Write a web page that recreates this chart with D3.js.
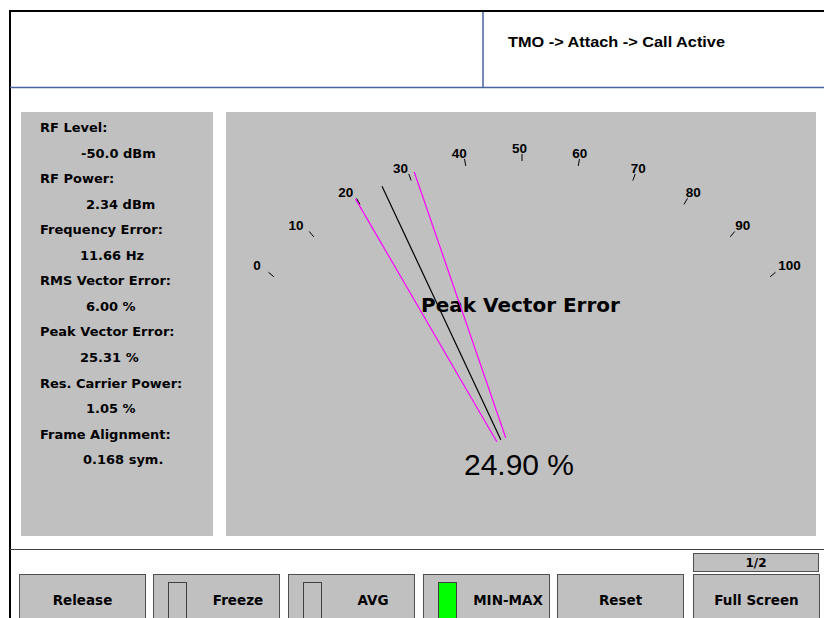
<!DOCTYPE html>
<html>
<head>
<meta charset="utf-8">
<script src="https://cdn.jsdelivr.net/npm/d3@7"></script>
<style>
  html, body { margin: 0; padding: 0; background: #fff; }
  svg { display: block; }
</style>
</head>
<body>
<svg id="screen" width="824" height="618"></svg>
<script>
// readings in the left panel
const readingLabels = ['RF Level:', 'RF Power:', 'Frequency Error:', 'RMS Vector Error:', 'Peak Vector Error:', 'Res. Carrier Power:', 'Frame Alignment:'];
const readingValues = ['-50.0 dBm', '2.34 dBm', '11.66 Hz', '6.00 %', '25.31 %', '1.05 %', '0.168 sym.'];

// gauge
const gaugeTitle = 'Peak Vector Error';
const gaugeTicks = [0, 10, 20, 30, 40, 50, 60, 70, 80, 90, 100];
const gaugeValue = 24.90;
const gaugeMin = 19.8;
const gaugeMax = 31.0;
const gaugeUnit = '%';

// header + softkeys
const statusText = 'TMO -> Attach -> Call Active';
const softkeys = ['Release', 'Freeze', 'AVG', 'MIN-MAX', 'Reset', 'Full Screen'];
const softkeyLed = [null, false, false, true, null, null];
const pageText = '1/2';

const svg = d3.select('#screen');
const bold = 'DejaVu Sans, sans-serif';
const grey = '#c0c0c0';

// frame
svg.append('line').attr('x1', 10).attr('x2', 824).attr('y1', 11).attr('y2', 11)
  .attr('stroke', '#000').attr('stroke-width', 2);
svg.append('line').attr('x1', 10).attr('x2', 10).attr('y1', 10).attr('y2', 618)
  .attr('stroke', '#000').attr('stroke-width', 2);
svg.append('line').attr('x1', 10).attr('x2', 824).attr('y1', 87.5).attr('y2', 87.5)
  .attr('stroke', '#4a64a0').attr('stroke-width', 1.5);
svg.append('line').attr('x1', 483).attr('x2', 483).attr('y1', 12).attr('y2', 87)
  .attr('stroke', '#4a64a0').attr('stroke-width', 1.5);
svg.append('line').attr('x1', 10).attr('x2', 824).attr('y1', 549.5).attr('y2', 549.5)
  .attr('stroke', '#404040').attr('stroke-width', 1);

svg.append('text').attr('x', 508).attr('y', 47)
  .attr('font-family', 'Liberation Sans, Arial, sans-serif').attr('font-weight', 'bold')
  .attr('font-size', 15.5).attr('textLength', 217).attr('lengthAdjust', 'spacingAndGlyphs')
  .text(statusText);

// left readings panel
svg.append('rect').attr('x', 21).attr('y', 112).attr('width', 192).attr('height', 424).attr('fill', grey);
const valueX = [81, 86, 80, 86, 80, 86, 83];
const rows = svg.append('g').attr('font-family', bold).attr('font-weight', 'bold').attr('font-size', 13);
rows.selectAll('text.lbl').data(readingLabels).enter().append('text')
  .attr('class', 'lbl').attr('x', 40).attr('y', (d, i) => 132 + i * 51.1).text(d => d);
rows.selectAll('text.val').data(readingValues).enter().append('text')
  .attr('class', 'val').attr('x', (d, i) => valueX[i]).attr('y', (d, i) => 157.5 + i * 51.1).text(d => d);

// gauge panel
svg.append('rect').attr('x', 226).attr('y', 112).attr('width', 590).attr('height', 424).attr('fill', grey);

const cx = 522, cy = 485;
const angle = d3.scaleLinear().domain([0, 100]).range([-50, 50]);
const rad = v => angle(v) * Math.PI / 180;
const polar = (v, r) => [cx + r * Math.sin(rad(v)), cy - r * Math.cos(rad(v))];

const gauge = svg.append('g');
gauge.selectAll('line.tick').data(gaugeTicks).enter().append('line')
  .attr('class', 'tick')
  .attr('x1', d => polar(d, 324)[0]).attr('y1', d => polar(d, 324)[1])
  .attr('x2', d => polar(d, 331)[0]).attr('y2', d => polar(d, 331)[1])
  .attr('stroke', '#000').attr('stroke-width', 1);

// labels sit above the tick, pushed outward by their near edge
const side = d => (d < 50 ? -1 : d > 50 ? 1 : 0);
gauge.selectAll('text.tl').data(gaugeTicks).enter().append('text')
  .attr('class', 'tl')
  .attr('x', d => polar(d, 327.5)[0] + 20 * Math.sin(rad(d)) - 2.5 - side(d) * 7.5)
  .attr('y', d => polar(d, 327.5)[1] - 4.5)
  .attr('text-anchor', d => (side(d) < 0 ? 'end' : side(d) > 0 ? 'start' : 'middle'))
  .attr('font-family', 'Liberation Sans, Arial, sans-serif').attr('font-weight', 'bold').attr('font-size', 13.5)
  .text(d => d);

gauge.append('text').attr('x', 520.5).attr('y', 312).attr('text-anchor', 'middle')
  .attr('font-family', bold).attr('font-weight', 'bold').attr('font-size', 20)
  .text(gaugeTitle);

// needles: min/max (magenta) and current (black)
const needles = [
  { v: gaugeMin, c: '#ff00ff', r: 331 },
  { v: gaugeMax, c: '#ff00ff', r: 331 },
  { v: gaugeValue, c: '#000', r: 330 }
];
gauge.selectAll('line.needle').data(needles).enter().append('line')
  .attr('class', 'needle')
  .attr('x1', d => polar(d.v, 50)[0]).attr('y1', d => polar(d.v, 50)[1])
  .attr('x2', d => polar(d.v, d.r)[0]).attr('y2', d => polar(d.v, d.r)[1])
  .attr('stroke', d => d.c).attr('stroke-width', 1.2);

gauge.append('text').attr('x', 519).attr('y', 475).attr('text-anchor', 'middle')
  .attr('font-family', 'Liberation Sans, Arial, sans-serif').attr('font-size', 30)
  .text(d3.format('.2f')(gaugeValue) + ' ' + gaugeUnit);

// softkeys
const keyX = [19, 153, 288, 423, 557, 693];
const keyW = 126;
const keys = svg.append('g').selectAll('g').data(softkeys).enter().append('g')
  .attr('transform', (d, i) => `translate(${keyX[i]},574)`);
keys.append('rect').attr('x', 0.5).attr('y', 0.5).attr('width', keyW).attr('height', 50)
  .attr('fill', grey).attr('stroke', '#505050').attr('stroke-width', 1);
keys.filter((d, i) => softkeyLed[i] !== null).append('rect')
  .attr('x', 15.5).attr('y', 8.5).attr('width', 18).attr('height', 40)
  .attr('fill', d => softkeyLed[softkeys.indexOf(d)] ? '#00ff00' : grey)
  .attr('stroke', '#404040');
keys.append('text')
  .attr('x', (d, i) => softkeyLed[i] !== null ? 85 : keyW / 2 + 0.5)
  .attr('y', 31).attr('text-anchor', 'middle')
  .attr('font-family', bold).attr('font-weight', 'bold').attr('font-size', 13.5)
  .text(d => d);

svg.append('rect').attr('x', 693.5).attr('y', 553.5).attr('width', 125).attr('height', 18)
  .attr('fill', grey).attr('stroke', '#505050');
svg.append('text').attr('x', 756).attr('y', 567).attr('text-anchor', 'middle')
  .attr('font-family', bold).attr('font-weight', 'bold').attr('font-size', 12)
  .text(pageText);
</script>
</body>
</html>
